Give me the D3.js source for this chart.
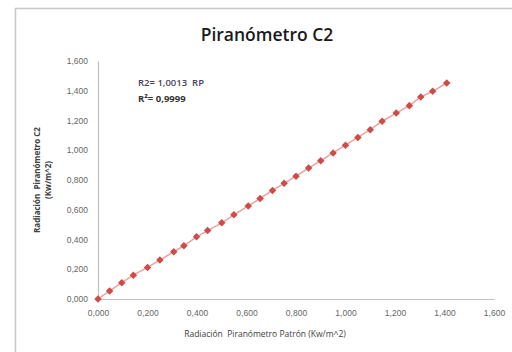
<!DOCTYPE html>
<html>
<head>
<meta charset="utf-8">
<script src="https://cdn.jsdelivr.net/npm/d3@7"></script>
<style>
  body { margin: 0; background: #fff; }
  svg { display: block; font-family: 'Open Sans', 'Noto Sans', sans-serif; }
</style>
</head>
<body>
<svg id="chart" width="512" height="352"></svg>
<script>
// readings
const patron = [0.000, 0.047, 0.096, 0.143, 0.200, 0.250, 0.306, 0.347, 0.398, 0.443,
  0.500, 0.549, 0.607, 0.655, 0.705, 0.752, 0.800, 0.851, 0.900, 0.950,
  1.000, 1.050, 1.100, 1.148, 1.205, 1.258, 1.304, 1.352, 1.409];
const piranometroC2 = [0.000, 0.054, 0.110, 0.160, 0.212, 0.262, 0.318, 0.358, 0.418, 0.460,
  0.512, 0.566, 0.626, 0.676, 0.730, 0.778, 0.826, 0.880, 0.930, 0.982,
  1.034, 1.086, 1.138, 1.195, 1.250, 1.300, 1.358, 1.396, 1.452];
const ticks = [0, 0.2, 0.4, 0.6, 0.8, 1.0, 1.2, 1.4, 1.6];

const margin = { top: 61, right: 18, bottom: 53, left: 98 };
const width = 512 - margin.left - margin.right;
const height = 352 - margin.top - margin.bottom;

const fmt = (v) => d3.format('.3f')(v).replace('.', ',');

const svg = d3.select('#chart');

// chart frame
svg.append('rect')
  .attr('x', 15.5).attr('y', 8.5)
  .attr('width', 520).attr('height', 360)
  .attr('fill', '#fff')
  .attr('stroke', '#c8c8c8')
  .attr('stroke-width', 1.5);

const xScale = d3.scaleLinear().domain([0, 1.6]).range([0, width]);
const yScale = d3.scaleLinear().domain([0, 1.6]).range([height, 0]);

const g = svg.append('g')
  .attr('transform', `translate(${margin.left}, ${margin.top})`);

const xAxis = d3.axisBottom(xScale).tickValues(ticks).tickFormat(fmt).tickSize(0).tickPadding(11);
const yAxis = d3.axisLeft(yScale).tickValues(ticks).tickFormat(fmt).tickSize(0).tickPadding(10);

const gX = g.append('g')
  .attr('transform', `translate(0, ${height})`)
  .call(xAxis);
const gY = g.append('g').call(yAxis);

[gX, gY].forEach((a) => {
  a.select('.domain').attr('stroke', '#bfbfbf').attr('stroke-width', 1.2);
  a.selectAll('text')
    .attr('fill', '#666')
    .attr('font-size', '8.5px');
});

const line = d3.line()
  .x((d, i) => xScale(patron[i]))
  .y((d) => yScale(d));

g.append('path')
  .datum(piranometroC2)
  .attr('d', line)
  .attr('fill', 'none')
  .attr('stroke', '#e8a3a1')
  .attr('stroke-width', 1.5);

const diamond = d3.symbol().type(d3.symbolDiamond2).size(36);
g.append('g')
  .selectAll('path')
  .data(piranometroC2)
  .enter()
  .append('path')
  .attr('d', diamond)
  .attr('transform', (d, i) => `translate(${xScale(patron[i])}, ${yScale(d)})`)
  .attr('fill', '#cf4b48');

// title
svg.append('text')
  .attr('x', 267).attr('y', 41)
  .attr('text-anchor', 'middle')
  .attr('font-size', '17.5px')
  .attr('font-weight', 600)
  .attr('fill', '#1a1a1a')
  .text('Piranómetro C2');

// annotation
svg.append('text')
  .attr('x', 138).attr('y', 86)
  .attr('font-size', '9.5px')
  .attr('font-weight', 600)
  .attr('fill', '#4a3f5c')
  .attr('xml:space', 'preserve')
  .text('R2= 1,0013  RP');
svg.append('text')
  .attr('x', 138).attr('y', 102)
  .attr('font-size', '9.5px')
  .attr('font-weight', 'bold')
  .attr('fill', '#333')
  .text('R²= 0,9999');

// axis titles
svg.append('text')
  .attr('x', 265).attr('y', 337)
  .attr('text-anchor', 'middle')
  .attr('font-size', '8.5px')
  .attr('fill', '#404040')
  .attr('xml:space', 'preserve')
  .text('Radiación  Piranómetro Patrón (Kw/m^2)');

const yTitle = svg.append('text')
  .attr('transform', 'translate(40, 180) rotate(-90)')
  .attr('text-anchor', 'middle')
  .attr('font-size', '8px')
  .attr('font-weight', 'bold')
  .attr('fill', '#404040');
yTitle.append('tspan').attr('x', 0).attr('dy', 0)
  .attr('xml:space', 'preserve').text('Radiación  Piranómetro C2');
yTitle.append('tspan').attr('x', 0).attr('dy', 11).text('(Kw/m^2)');
</script>
</body>
</html>
